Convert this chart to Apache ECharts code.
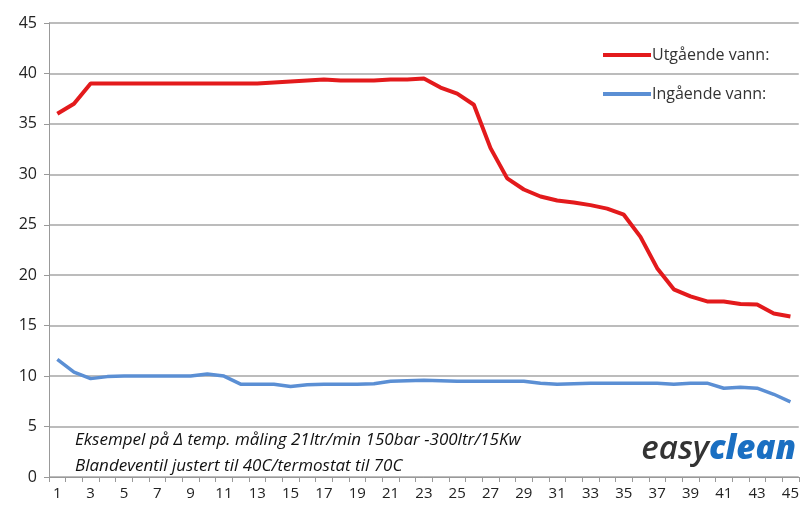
<!DOCTYPE html>
<html>
<head>
<meta charset="utf-8">
<script src="https://cdn.jsdelivr.net/npm/echarts@6/dist/echarts.min.js"></script>
<style>html,body{margin:0;padding:0;background:#fff}#c{width:802px;height:507px}</style>
</head>
<body>
<div id="c"></div>
<script>
var categories = [];
for (var i = 1; i <= 45; i++) categories.push(String(i));
var utgaende = [36.0, 37.0, 39.0, 39.0, 39.0, 39.0, 39.0, 39.0, 39.0, 39.0,
  39.0, 39.0, 39.0, 39.1, 39.2, 39.3, 39.4, 39.3, 39.3, 39.3,
  39.4, 39.4, 39.5, 38.6, 38.0, 36.9, 32.6, 29.6, 28.5, 27.8,
  27.4, 27.2, 26.95, 26.6, 26.0, 23.8, 20.7, 18.6, 17.9, 17.4,
  17.4, 17.15, 17.1, 16.2, 15.9];
var ingaende = [11.66, 10.4, 9.75, 9.95, 10.0, 10.0, 10.0, 10.0, 10.0, 10.2,
  10.0, 9.2, 9.2, 9.2, 8.98, 9.15, 9.2, 9.2, 9.2, 9.25,
  9.5, 9.55, 9.6, 9.55, 9.5, 9.5, 9.5, 9.5, 9.5, 9.3,
  9.2, 9.25, 9.3, 9.3, 9.3, 9.3, 9.3, 9.2, 9.3, 9.3,
  8.8, 8.9, 8.8, 8.2, 7.45];
var seriesNames = ['Utgående vann:', 'Ingående vann:'];
var noteLines = ['Eksempel på Δ temp. måling 21ltr/min 150bar -300ltr/15Kw', 'Blandeventil justert til 40C/termostat til 70C'];

var chart = echarts.init(document.getElementById('c'));
var font = 'Open Sans';
chart.setOption({
  animation: false,
  backgroundColor: '#fff',
  grid: { left: 49, right: 3, top: 23, bottom: 30, containLabel: false },
  legend: {
    orient: 'vertical', left: 598, top: 42, itemGap: 23,
    icon: 'rect', itemWidth: 48, itemHeight: 4,
    textStyle: { fontFamily: font, fontSize: 16, color: '#333', padding: [0,0,0,-4] },
    data: seriesNames
  },
  xAxis: {
    type: 'category', data: categories, boundaryGap: true,
    axisLine: { lineStyle: { color: '#999', width: 1 } },
    axisTick: { show: true, interval: 0, inside: false, length: 5, lineStyle: { color: '#999' } },
    axisLabel: { interval: 1, fontFamily: font, fontSize: 15, color: '#222', margin: 9 },
    splitLine: { show: false }
  },
  yAxis: {
    type: 'value', min: 0, max: 45, interval: 5,
    axisLine: { show: true, lineStyle: { color: '#999', width: 1 } },
    axisTick: { show: true, length: 5, lineStyle: { color: '#999' } },
    axisLabel: { fontFamily: font, fontSize: 16, color: '#222', margin: 12 },
    splitLine: { lineStyle: { color: '#a6a6a6', width: 1.5 } }
  },
  graphic: [
    { type: 'text', left: 75, top: 432, style: { text: noteLines[0], fontFamily: font, fontStyle: 'italic', fontSize: 17, fill: '#111' } },
    { type: 'text', left: 75, top: 458, style: { text: noteLines[1], fontFamily: font, fontStyle: 'italic', fontSize: 17, fill: '#111' } },
    { type: 'text', right: 6, top: 433, style: {
        text: '{a|easy}{b|clean}',
        rich: {
          a: { fontFamily: font, fontStyle: 'italic', fontWeight: 600, fontSize: 33, fill: '#333' },
          b: { fontFamily: font, fontStyle: 'italic', fontWeight: 800, fontSize: 33, fill: '#1a6fc2' }
        }
      } }
  ],
  series: [
    { name: seriesNames[0], type: 'line', data: utgaende, symbol: 'none', smooth: false,
      lineStyle: { color: '#e31a1c', width: 4 }, itemStyle: { color: '#e31a1c' } },
    { name: seriesNames[1], type: 'line', data: ingaende, symbol: 'none', smooth: false,
      lineStyle: { color: '#5b8fd4', width: 3.5 }, itemStyle: { color: '#5b8fd4' } }
  ]
});
</script>
</body>
</html>
